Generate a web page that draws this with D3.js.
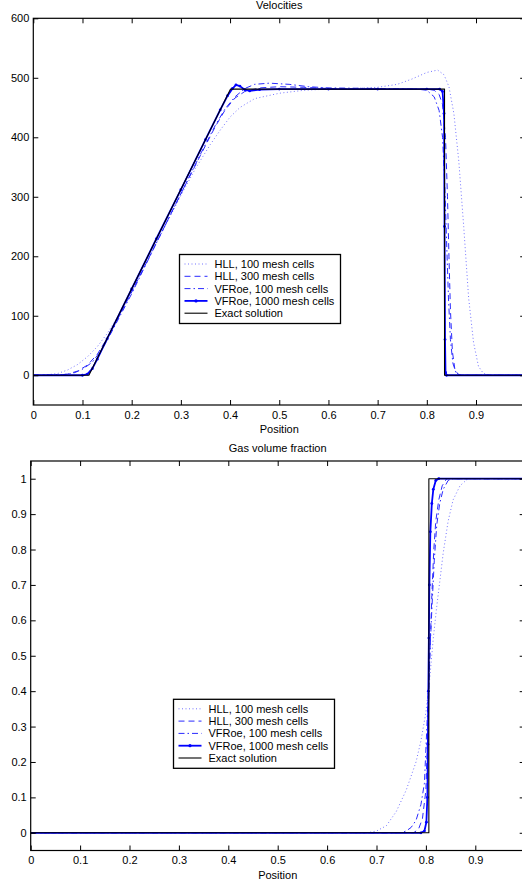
<!doctype html>
<html lang="en">
<head>
    <meta charset="utf-8">
    <title>Velocities / Gas volume fraction</title>
    <style type="text/css">
        html, body {
            margin: 0;
            padding: 0;
            background-color: #fff;
            overflow: hidden;
        }
        svg text {
            font-family: "Liberation Sans", Arial, sans-serif;
            font-size: 11px;
            fill: #000;
        }
    </style>
</head>
<body>
    <svg id="chart" width="522" height="884"></svg>

    <script src="https://cdn.jsdelivr.net/npm/d3@7"></script>
    <script>
        // ticks; the tick at 1 sits on the cut-off right edge, so it gets no label
        const xTicks = [0, 0.1, 0.2, 0.3, 0.4, 0.5, 0.6, 0.7, 0.8, 0.9, 1];
        const xTickLabels = ["0", "0.1", "0.2", "0.3", "0.4", "0.5", "0.6", "0.7", "0.8", "0.9", ""];
        const velTicks = [0, 100, 200, 300, 400, 500, 600];
        const gasTicks = [0, 0.1, 0.2, 0.3, 0.4, 0.5, 0.6, 0.7, 0.8, 0.9, 1];

        const seriesNames = ["HLL, 100 mesh cells", "HLL, 300 mesh cells",
            "VFRoe, 100 mesh cells", "VFRoe, 1000 mesh cells", "Exact solution"];

        // velocities, [position, value]
        const velHLL100 = [[0, 0], [0.03, 1], [0.05, 3], [0.07, 9], [0.09, 18], [0.11, 31], [0.13, 48],
            [0.15, 70], [0.17, 96], [0.2, 140], [0.25, 222], [0.3, 302], [0.33, 348], [0.36, 388],
            [0.38, 412], [0.4, 434], [0.42, 450], [0.45, 465], [0.5, 474], [0.55, 479], [0.6, 481],
            [0.65, 482], [0.7, 484], [0.74, 489], [0.77, 498], [0.8, 509], [0.822, 513], [0.835, 505],
            [0.845, 485], [0.855, 440], [0.865, 360], [0.875, 250], [0.885, 130], [0.895, 55],
            [0.905, 15], [0.915, 3], [0.93, 0], [1, 0]];
        const velHLL300 = [[0, 0], [0.05, 0], [0.07, 2], [0.09, 7], [0.11, 17], [0.13, 35], [0.15, 62],
            [0.17, 92], [0.2, 140], [0.25, 222], [0.3, 305], [0.34, 370], [0.37, 418], [0.39, 446],
            [0.41, 466], [0.43, 477], [0.46, 483], [0.5, 485], [0.55, 484], [0.6, 482], [0.7, 481],
            [0.8, 481], [0.815, 479], [0.825, 472], [0.832, 455], [0.838, 400], [0.842, 300],
            [0.845, 200], [0.848, 110], [0.852, 40], [0.857, 10], [0.865, 0], [1, 0]];
        const velVFRoe100 = [[0, 0], [0.06, 1], [0.08, 3], [0.1, 10], [0.12, 22], [0.14, 44], [0.16, 74],
            [0.2, 137], [0.25, 222], [0.3, 305], [0.34, 372], [0.37, 420], [0.39, 448], [0.41, 468],
            [0.43, 482], [0.45, 489], [0.48, 491], [0.52, 489], [0.56, 485], [0.6, 483], [0.7, 482],
            [0.78, 481], [0.8, 479], [0.815, 468], [0.825, 445], [0.832, 400], [0.836, 330],
            [0.84, 230], [0.844, 130], [0.848, 60], [0.853, 20], [0.86, 3], [0.87, 0], [1, 0]];
        const velVFRoe1000 = [[0, 0], [0.1, 0], [0.11, 2], [0.12, 11], [0.13, 27], [0.15, 61], [0.2, 145],
            [0.25, 229], [0.3, 312], [0.35, 396], [0.38, 446], [0.395, 470], [0.405, 482], [0.412, 488],
            [0.42, 486], [0.43, 480], [0.44, 478], [0.46, 480], [0.5, 481], [0.6, 481], [0.7, 481],
            [0.8, 481], [0.826, 481], [0.832, 477], [0.835, 440], [0.836, 250], [0.837, 60],
            [0.838, 5], [0.84, 0], [1, 0]];
        const velExact = [[0, 0], [0.113, 0], [0.401, 481], [0.836, 481], [0.836, 0], [1, 0]];

        // gas volume fraction, [position, value]
        const gasHLL100 = [[0, 0], [0.68, 0], [0.7, 0.005], [0.72, 0.02], [0.74, 0.06], [0.76, 0.12],
            [0.78, 0.2], [0.79, 0.26], [0.8, 0.34], [0.808, 0.44], [0.815, 0.55], [0.822, 0.64],
            [0.829, 0.72], [0.835, 0.79], [0.845, 0.88], [0.855, 0.94], [0.869, 0.98], [0.885, 1],
            [1, 1]];
        const gasHLL300 = [[0, 0], [0.775, 0], [0.785, 0.01], [0.793, 0.04], [0.8, 0.12], [0.804, 0.3],
            [0.808, 0.5], [0.812, 0.67], [0.816, 0.8], [0.82, 0.88], [0.826, 0.94], [0.833, 0.98],
            [0.842, 1], [1, 1]];
        const gasVFRoe100 = [[0, 0], [0.75, 0], [0.76, 0.005], [0.77, 0.015], [0.78, 0.035], [0.79, 0.08],
            [0.797, 0.14], [0.802, 0.3], [0.807, 0.47], [0.812, 0.63], [0.817, 0.77], [0.822, 0.87],
            [0.828, 0.93], [0.835, 0.97], [0.845, 0.995], [0.855, 1], [1, 1]];
        const gasVFRoe1000 = [[0, 0], [0.79, 0], [0.797, 0.005], [0.801, 0.03], [0.803, 0.1],
            [0.804, 0.25], [0.805, 0.4], [0.806, 0.55], [0.807, 0.7], [0.809, 0.85], [0.812, 0.93],
            [0.815, 0.97], [0.82, 0.995], [0.826, 1], [1, 1]];
        const gasExact = [[0, 0], [0.806, 0], [0.806, 1], [1, 1]];

        const styles = [
            {color: "#7373ff", width: 1, dash: "1,2.5"},
            {color: "#2a2aff", width: 1, dash: "6,4"},
            {color: "#2a2aff", width: 1, dash: "6,3,1.5,3"},
            {color: "#0000ff", width: 1.8, dash: null, marker: true},
            {color: "#000", width: 1.1, dash: null}
        ];

        const svg = d3.select("#chart");
        const fmt = d3.format("~g");
        const xFmt = (d, i) => xTickLabels[i];

        function panel(opts) {
            let x = d3.scaleLinear().domain([0, 1]).range(opts.xr);
            let y = d3.scaleLinear().domain(opts.yd).range(opts.yr);
            let g = svg.append("g");
            let id = "clip" + opts.key;

            g.append("clipPath").attr("id", id)
                .append("rect")
                .attr("x", opts.xr[0]).attr("y", opts.yr[1])
                .attr("width", opts.xr[1] - opts.xr[0])
                .attr("height", opts.yr[0] - opts.yr[1]);

            // series
            let line = d3.line().x(d => x(d[0])).y(d => y(d[1]));
            let lines = g.append("g").attr("clip-path", "url(#" + id + ")");
            opts.series.forEach((s, i) => {
                let st = styles[i];
                lines.append("path")
                    .datum(s)
                    .attr("d", line)
                    .attr("fill", "none")
                    .attr("stroke", st.color)
                    .attr("stroke-width", st.width)
                    .attr("stroke-dasharray", st.dash)
                    .attr("stroke-linejoin", "round");
                if (st.marker) {
                    lines.selectAll(null)
                        .data(s.filter(d => d[0] > 0 && d[0] < 1))
                        .enter().append("circle")
                        .attr("cx", d => x(d[0]))
                        .attr("cy", d => y(d[1]))
                        .attr("r", 1.4)
                        .attr("fill", st.color);
                }
            });

            // axes, ticks pointing inward
            g.append("g")
                .attr("transform", "translate(0," + opts.yr[0] + ")")
                .call(d3.axisBottom(x).tickValues(xTicks).tickFormat(xFmt)
                    .tickSizeInner(-5).tickSizeOuter(0).tickPadding(6));
            g.append("g")
                .attr("transform", "translate(0," + opts.yr[1] + ")")
                .call(d3.axisTop(x).tickValues(xTicks).tickFormat("")
                    .tickSizeInner(-5).tickSizeOuter(0));
            g.append("g")
                .attr("transform", "translate(" + opts.xr[0] + ",0)")
                .call(d3.axisLeft(y).tickValues(opts.yTicks).tickFormat(fmt)
                    .tickSizeInner(-5).tickSizeOuter(0).tickPadding(4));
            g.append("g")
                .attr("transform", "translate(" + opts.xr[1] + ",0)")
                .call(d3.axisRight(y).tickValues(opts.yTicks).tickFormat("")
                    .tickSizeInner(-5).tickSizeOuter(0));

            g.selectAll(".domain").remove();
            g.selectAll(".tick line").attr("stroke", "#000");
            g.selectAll(".tick text")
                .attr("fill", "#000")
                .style("font-family", "'Liberation Sans', Arial, sans-serif")
                .style("font-size", "11px");

            g.append("rect")
                .attr("x", opts.xr[0]).attr("y", opts.yr[1])
                .attr("width", opts.xr[1] - opts.xr[0])
                .attr("height", opts.yr[0] - opts.yr[1])
                .attr("fill", "none")
                .attr("stroke", "#000")
                .attr("stroke-width", 1.2);

            let cx = (opts.xr[0] + opts.xr[1]) / 2;
            g.append("text")
                .attr("x", cx).attr("y", opts.yr[1] - 9)
                .attr("text-anchor", "middle")
                .text(opts.title);
            g.append("text")
                .attr("x", cx).attr("y", opts.yr[0] + 28)
                .attr("text-anchor", "middle")
                .text("Position");

            // legend
            let lg = g.append("g").attr("transform", "translate(" + opts.legend[0] + "," + opts.legend[1] + ")");
            lg.append("rect")
                .attr("width", 161).attr("height", 69)
                .attr("fill", "#fff")
                .attr("stroke", "#000")
                .attr("stroke-width", 1.3);
            seriesNames.forEach((name, i) => {
                let st = styles[i];
                let ry = 9.5 + i * 12.3;
                lg.append("line")
                    .attr("x1", 5).attr("x2", 28)
                    .attr("y1", ry).attr("y2", ry)
                    .attr("stroke", st.color)
                    .attr("stroke-width", st.width)
                    .attr("stroke-dasharray", st.dash);
                if (st.marker) {
                    lg.append("circle").attr("cx", 16.5).attr("cy", ry).attr("r", 1.6).attr("fill", st.color);
                }
                lg.append("text")
                    .attr("x", 35).attr("y", ry + 4)
                    .text(name);
            });
        }

        panel({
            key: "vel",
            title: "Velocities",
            xr: [33.3, 525.2],
            yd: [-50, 600],
            yr: [405, 18.3],
            yTicks: velTicks,
            series: [velHLL100, velHLL300, velVFRoe100, velVFRoe1000, velExact],
            legend: [179.5, 254.5]
        });

        panel({
            key: "gas",
            title: "Gas volume fraction",
            xr: [30.7, 524.7],
            yd: [-0.05, 1.05],
            yr: [850.5, 461],
            yTicks: gasTicks,
            series: [gasHLL100, gasHLL300, gasVFRoe100, gasVFRoe1000, gasExact],
            legend: [173.5, 699.3]
        });
    </script>
</body>
</html>
